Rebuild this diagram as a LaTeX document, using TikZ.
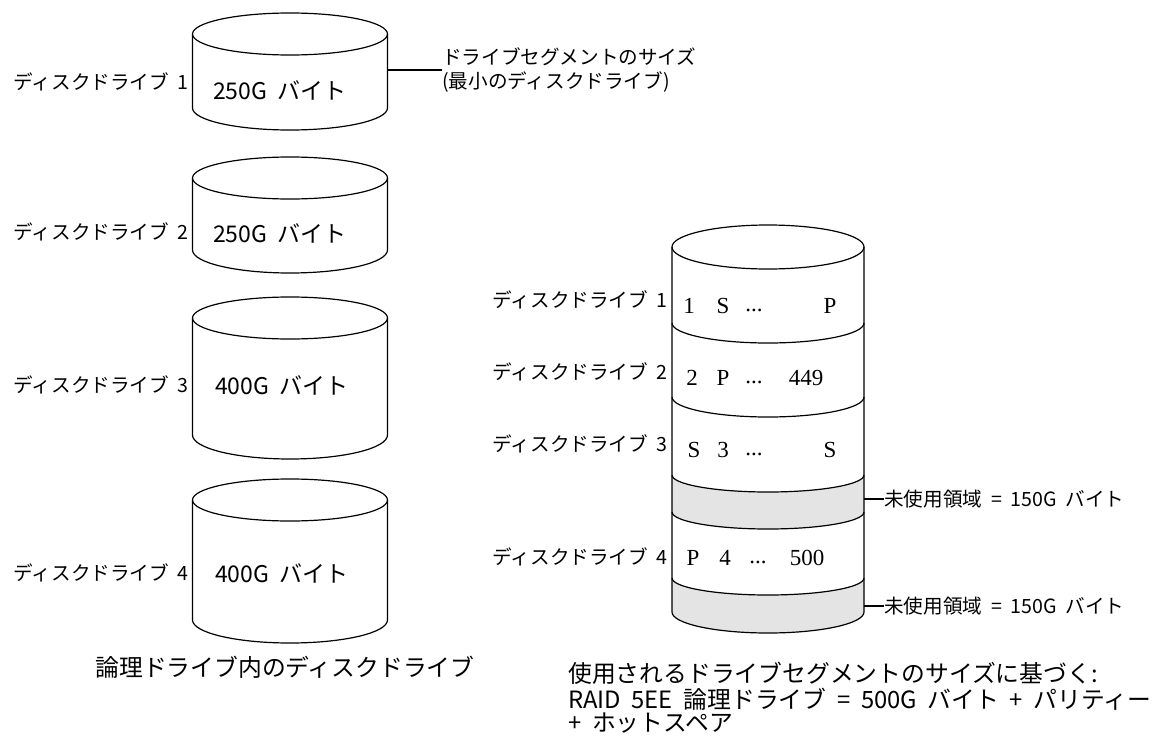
\documentclass[tikz,border=0pt]{standalone}
\usepackage{fontspec}
\newfontfamily\jpfont{Noto Sans CJK JP}
\newfontfamily\serfont{Liberation Serif}
\newcommand\hs{\hspace{0.45em}}
\definecolor{unused}{HTML}{E4E4E4}
\tikzset{
  outline/.style={draw=black, line width=1.2pt},
  band/.style={fill=unused, draw=none},
  lbl/.style={font=\jpfont\fontsize{19.6}{23.5}\selectfont, inner sep=0pt},
  sizetxt/.style={font=\jpfont\fontsize{23}{26}\selectfont, inner sep=0pt, anchor=west},
  captxt/.style={font=\jpfont\fontsize{23.8}{26}\selectfont, inner sep=0pt},
  cell/.style={font=\serfont\fontsize{23}{26}\selectfont, inner sep=0pt},
  lead/.style={draw=black, line width=1.2pt},
}
\begin{document}
\begin{tikzpicture}[x=1pt,y=-1pt]
\useasboundingbox[fill=white] (0,0) rectangle (1152,736);

% ---------- left cylinders ----------
\foreach \yt/\yb/\rb in {34/108/22, 178/250/23, 318/435/24, 500/620/23}{
  \draw[outline] (192.5,\yt) -- (192.5,\yb)
     arc[start angle=180,end angle=0,x radius=97.5,y radius=\rb] -- (387.5,\yt);
  \draw[outline] (290,\yt) ellipse[x radius=97.5,y radius=21];
}

\node[lbl,anchor=east] (l1) at (189,82) {ディスクドライブ\hs 1};
\node[lbl,anchor=east] (l2) at (189,232) {ディスクドライブ\hs 2};
\node[lbl,anchor=east] (l3) at (189,385) {ディスクドライブ\hs 3};
\node[lbl,anchor=east] (l4) at (189,573) {ディスクドライブ\hs 4};

\node[sizetxt] (s1) at (213,90) {250G\hs バイト};
\node[sizetxt] (s2) at (213,233) {250G\hs バイト};
\node[sizetxt] (s3) at (215,385) {400G\hs バイト};
\node[sizetxt] (s4) at (215,573) {400G\hs バイト};

\coordinate (c1r) at (387.5,70);
\node[lbl,anchor=west,align=left] (seg) at (442,70)
  {ドライブセグメントのサイズ\\(最小のディスクドライブ)};
\draw[lead] (c1r) -- (seg.west);

\node[captxt] (capl) at (285,667) {論理ドライブ内のディスクドライブ};

% ---------- right cylinder ----------
\fill[band] (672,475) arc[start angle=180,end angle=0,x radius=96,y radius=17]
   -- (864,512) arc[start angle=0,end angle=180,x radius=96,y radius=17] -- cycle;
\fill[band] (672,578) arc[start angle=180,end angle=0,x radius=96,y radius=17]
   -- (864,612) arc[start angle=0,end angle=180,x radius=96,y radius=21] -- cycle;

\draw[outline] (672,247) -- (672,612)
   arc[start angle=180,end angle=0,x radius=96,y radius=21] -- (864,247);
\draw[outline] (768,247) ellipse[x radius=96,y radius=22];
\draw[outline] (672,323) arc[start angle=180,end angle=0,x radius=96,y radius=20];
\draw[outline] (672,397) arc[start angle=180,end angle=0,x radius=96,y radius=20];
\draw[outline] (672,475) arc[start angle=180,end angle=0,x radius=96,y radius=17];
\draw[outline] (672,512) arc[start angle=180,end angle=0,x radius=96,y radius=17];
\draw[outline] (672,578) arc[start angle=180,end angle=0,x radius=96,y radius=17];

\node[lbl,anchor=east] (r1) at (668,300) {ディスクドライブ\hs 1};
\node[lbl,anchor=east] (r2) at (668,372) {ディスクドライブ\hs 2};
\node[lbl,anchor=east] (r3) at (668,444) {ディスクドライブ\hs 3};
\node[lbl,anchor=east] (r4) at (668,557) {ディスクドライブ\hs 4};

\node[cell] (a1) at (689,306) {1};
\node[cell] (a2) at (723,306) {S};
\node[cell] (a3) at (754,310) {...};
\node[cell] (a4) at (830,306) {P};

\node[cell] (b1) at (692,378) {2};
\node[cell] (b2) at (723,378) {P};
\node[cell] (b3) at (754,382) {...};
\node[cell] (b4) at (806,378) {449};

\node[cell] (c1) at (694,450) {S};
\node[cell] (c2) at (723,450) {3};
\node[cell] (c3) at (754,454) {...};
\node[cell] (c4) at (830,450) {S};

\node[cell] (d1) at (693,558) {P};
\node[cell] (d2) at (725,558) {4};
\node[cell] (d3) at (758,562) {...};
\node[cell] (d4) at (807,558) {500};

\coordinate (u1r) at (864,499);
\coordinate (u2r) at (864,606);
\node[lbl,anchor=west] (u1) at (884,499) {未使用領域\hs=\hs 150G\hs バイト};
\node[lbl,anchor=west] (u2) at (884,606) {未使用領域\hs=\hs 150G\hs バイト};
\draw[lead] (u1r) -- (u1.west);
\draw[lead] (u2r) -- (u2.west);

\node[captxt,anchor=west] (capr1) at (568,673) {使用されるドライブセグメントのサイズに基づく:};
\node[captxt,anchor=west] (capr2) at (568,699) {RAID\hs 5EE\hs 論理ドライブ\hs=\hs 500G\hs バイト\hs+\hs パリティー};
\node[captxt,anchor=west] (capr3) at (568,723) {+\hs ホットスペア};
\end{tikzpicture}
\end{document}
